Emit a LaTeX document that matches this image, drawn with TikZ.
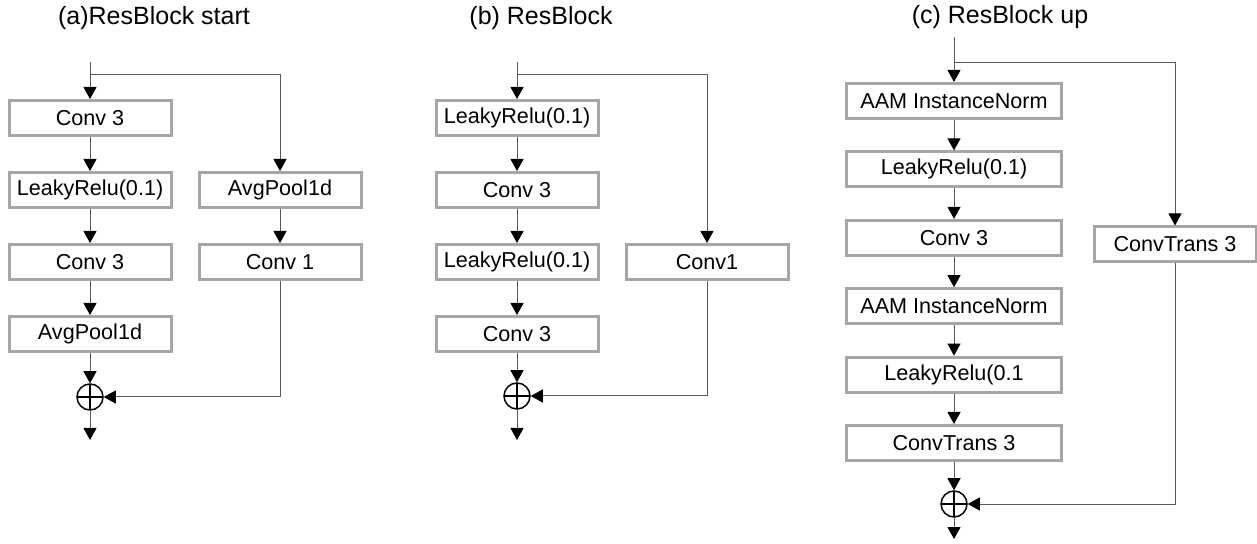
\documentclass[tikz,border=0pt]{standalone}
\usepackage{fontspec}
\setmainfont{Liberation Sans}
\usepackage{tikz}
\usetikzlibrary{arrows.meta}
\definecolor{boxgray}{HTML}{A6A6A6}
\definecolor{linegray}{HTML}{5A5A5A}

\begin{document}
\begin{tikzpicture}[x=0.5pt,y=-0.5pt,
  blk/.style={draw=boxgray, line width=1.5pt, fill=white, minimum width=81pt, minimum height=17.5pt, inner sep=0pt, font=\fontsize{10.8}{12}\selectfont},
  wideblk/.style={blk, minimum width=107.5pt},
  sumnode/.style={circle, draw=black, line width=0.75pt, minimum size=13pt, inner sep=0pt,
    path picture={\draw[line width=0.75pt] (path picture bounding box.north) -- (path picture bounding box.south) (path picture bounding box.west) -- (path picture bounding box.east);}},
  arr/.style={draw=linegray, line width=0.5pt, -{Triangle[width=6.5pt,length=6pt,color=black]}},
  ttl/.style={font=\fontsize{12.5}{14}\selectfont}]
\useasboundingbox (0,0) rectangle (1257,544);

% titles
\node[ttl] (ta) at (154,18) {(a)ResBlock start};
\node[ttl] (tb) at (541,18) {(b) ResBlock};
\node[ttl] (tc) at (1000,17) {(c) ResBlock up};

% (a) ResBlock start
\foreach \t [count=\i] in {Conv 3, LeakyRelu(0.1), Conv 3, AvgPool1d}
  \node[blk] (a\i) at (90,{46+72*\i}) {\t};
\node[blk] (ap1) at (280,190) {AvgPool1d};
\node[blk] (ap2) at (280,262) {Conv 1};
\node[sumnode] (aadd) at (90,397) {};
\coordinate (ain) at (90,62);
\coordinate (asp) at (90,75);
\coordinate (aout) at (90,440);
\draw[arr] (ain) -- (a1);
\draw[arr] (asp) -| (ap1);
\foreach \i/\j in {1/2, 2/3, 3/4}
  \draw[arr] (a\i) -- (a\j);
\draw[arr] (ap1) -- (ap2);
\draw[arr] (a4) -- (aadd);
\draw[arr] (ap2) |- (aadd);
\draw[arr] (aadd) -- (aout);

% (b) ResBlock
\foreach \t [count=\i] in {LeakyRelu(0.1), Conv 3, LeakyRelu(0.1), Conv 3}
  \node[blk] (b\i) at (517,{46+72*\i}) {\t};
\node[blk] (bp1) at (707,262) {Conv1};
\node[sumnode] (badd) at (517,396) {};
\coordinate (bin) at (517,62);
\coordinate (bsp) at (517,75);
\coordinate (bout) at (517,440);
\draw[arr] (bin) -- (b1);
\draw[arr] (bsp) -| (bp1);
\foreach \i/\j in {1/2, 2/3, 3/4}
  \draw[arr] (b\i) -- (b\j);
\draw[arr] (b4) -- (badd);
\draw[arr] (bp1) |- (badd);
\draw[arr] (badd) -- (bout);

% (c) ResBlock up
\foreach \t [count=\i] in {AAM InstanceNorm, LeakyRelu(0.1), Conv 3, AAM InstanceNorm, LeakyRelu(0.1, ConvTrans 3}
  \node[wideblk] (c\i) at (954,{32.6+68.4*\i}) {\t};
\node[blk] (cp1) at (1175,244.5) {ConvTrans 3};
\node[sumnode] (cadd) at (954,504) {};
\coordinate (cin) at (954,37);
\coordinate (csp) at (954,63);
\coordinate (cout) at (954,539);
\draw[arr] (cin) -- (c1);
\draw[arr] (csp) -| (cp1);
\foreach \i/\j in {1/2, 2/3, 3/4, 4/5, 5/6}
  \draw[arr] (c\i) -- (c\j);
\draw[arr] (c6) -- (cadd);
\draw[arr] (cp1) |- (cadd);
\draw[arr] (cadd) -- (cout);
\end{tikzpicture}
\end{document}
